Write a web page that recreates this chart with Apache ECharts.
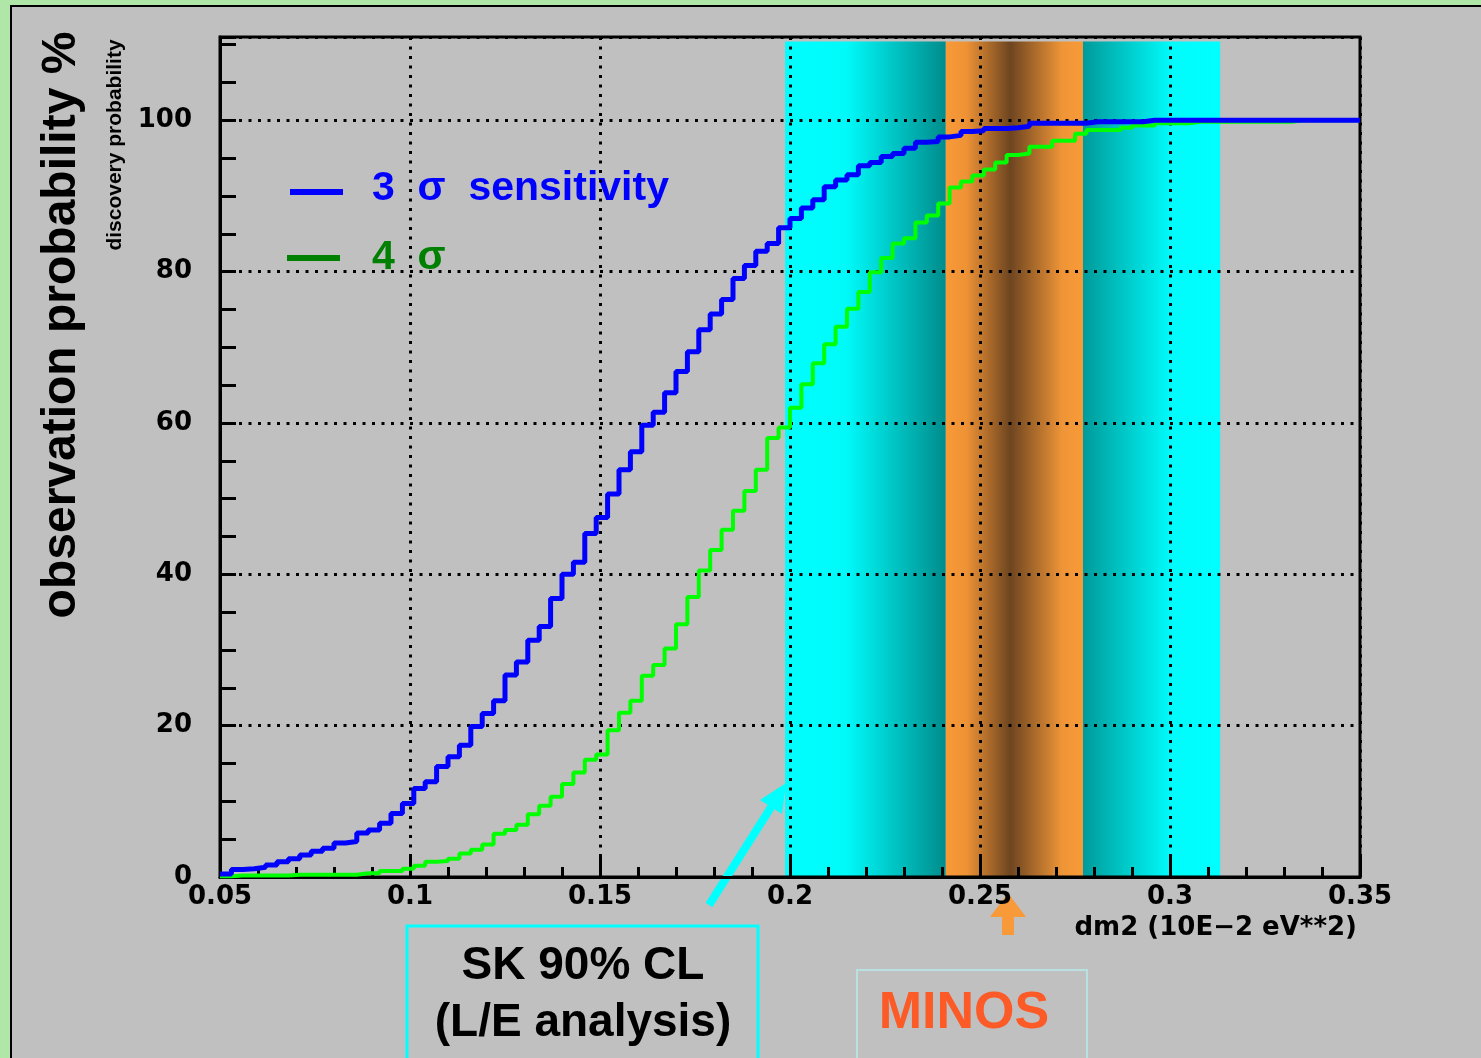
<!DOCTYPE html>
<html>
<head>
<meta charset="utf-8">
<title>observation probability</title>
<script src="https://cdn.jsdelivr.net/npm/echarts@6/dist/echarts.min.js"></script>
<style>
  html, body { margin: 0; padding: 0; background: #b0e6a8; }
  #chart { width: 1481px; height: 1058px; }
</style>
</head>
<body>
<div id="chart"></div>
<script>
// histogram bins: 100 bins of 0.003 from 0.05 to 0.35
const binStart = 0.05;
const binWidth = 0.003;
const xTicks = [0.05, 0.1, 0.15, 0.2, 0.25, 0.3, 0.35];
const yTicks = [0, 20, 40, 60, 80, 100];

// 3 sigma sensitivity (blue)
const sigma3 = [
  0.4, 1.0, 1.1, 1.3, 1.6, 2.0, 2.4, 2.9, 3.4, 3.8,
  4.5, 4.7, 5.8, 6.2, 7.1, 8.4, 9.7, 11.7, 12.6, 14.6,
  15.9, 17.4, 19.9, 21.6, 23.3, 26.7, 28.4, 31.3, 33.1, 36.8,
  40.0, 41.6, 45.4, 47.5, 50.6, 53.8, 56.2, 59.7, 61.4, 64.0,
  66.8, 69.4, 72.3, 74.4, 76.3, 79.1, 80.8, 82.7, 83.7, 85.8,
  87.0, 88.4, 89.5, 91.2, 92.1, 92.8, 94.0, 94.4, 95.2, 95.6,
  96.3, 97.1, 97.2, 97.8, 98.0, 98.5, 98.6, 98.9, 98.9, 99.0,
  99.2, 99.6, 99.6, 99.6, 99.6, 99.6, 99.8, 99.8, 99.8, 99.8,
  99.8, 100, 100, 100, 100, 100, 100, 100, 100, 100,
  100, 100, 100, 100, 100, 100, 100, 100, 100, 100
];

// 4 sigma (green)
const sigma4 = [
  0.1, 0.2, 0.2, 0.2, 0.2, 0.2, 0.3, 0.3, 0.3, 0.3,
  0.3, 0.3, 0.5, 0.5, 0.8, 0.8, 1.1, 1.5, 2.0, 2.1,
  2.4, 3.1, 3.6, 4.3, 5.7, 6.2, 6.9, 8.3, 9.4, 10.6,
  12.3, 13.8, 15.5, 16.2, 19.4, 21.7, 23.3, 26.6, 28.0, 30.2,
  33.4, 37.0, 40.5, 43.2, 45.9, 48.4, 51.0, 53.8, 58.0, 59.4,
  62.0, 65.1, 67.9, 70.4, 72.7, 75.1, 77.3, 79.9, 81.8, 83.7,
  84.4, 86.5, 87.4, 89.0, 91.1, 91.9, 92.7, 93.5, 94.4, 95.4,
  95.6, 96.5, 96.5, 97.3, 97.3, 98.2, 98.7, 98.7, 98.7, 99.0,
  99.3, 99.3, 99.6, 99.6, 99.6, 99.8, 99.8, 99.8, 99.8, 99.8,
  99.8, 99.8, 99.8, 99.8, 100, 100, 100, 100, 100, 100
];

// allowed dm2 ranges
const skRange = [0.1987, 0.3132];
const minosRange = [0.241, 0.2771];
const bandTop = 110.4;

function toSteps(values) {
  const pts = values.map((v, i) => [+(binStart + i * binWidth).toFixed(4), v]);
  pts.push([xTicks[xTicks.length - 1], values[values.length - 1]]);
  return pts;
}

const LG = echarts.graphic.LinearGradient;
const dotted = { color: '#000', width: 3, type: [3, 6.5] };
const tickFont = { color: '#000', fontFamily: 'DejaVu Sans', fontWeight: 'bold', fontSize: 26 };

let mychart = echarts.init(document.getElementById('chart'));
let option = {
  backgroundColor: '#b0e6a8',
  animation: false,
  grid: {
    left: 220, right: 121, top: 37, bottom: 181,
    show: true, borderColor: '#000', borderWidth: 3, backgroundColor: 'transparent'
  },
  xAxis: {
    type: 'value',
    min: xTicks[0], max: xTicks[xTicks.length - 1], interval: 0.05,
    axisLine: { show: true, lineStyle: { color: '#000', width: 3 } },
    axisTick: { inside: true, length: 20, lineStyle: { color: '#000', width: 3 } },
    minorTick: { show: true, splitNumber: 5, length: 10, lineStyle: { color: '#000', width: 3 } },
    axisLabel: Object.assign({ margin: 7, showMinLabel: true, showMaxLabel: true }, tickFont),
    splitLine: { show: true, lineStyle: dotted }
  },
  yAxis: [{
    type: 'value', position: 'left',
    min: 0, max: 111, interval: 20,
    axisLine: { show: true, lineStyle: { color: '#000', width: 3 } },
    axisTick: { show: false },
    axisLabel: Object.assign({
      margin: 28,
      formatter: v => (yTicks.indexOf(v) >= 0 ? String(v) : '')
    }, tickFont),
    splitLine: { show: true, lineStyle: dotted }
  }, {
    type: 'value', position: 'left',
    min: 0, max: 111, interval: 5,
    axisLine: { show: false },
    axisTick: { show: true, inside: true, length: 16, lineStyle: { color: '#000', width: 3 } },
    axisLabel: { show: false },
    splitLine: { show: false }
  }],
  graphic: [
    { type: 'rect', z: -100, shape: { x: 11, y: 6, width: 1490, height: 1070 },
      style: { fill: '#c0c0c0', stroke: '#000', lineWidth: 2 } },
    { type: 'text', x: 62, y: 325, rotation: Math.PI / 2,
      style: { text: 'observation probability %', fill: '#000', font: 'bold 48px "Liberation Sans"',
        align: 'center', verticalAlign: 'middle' } },
    { type: 'text', x: 115, y: 145, rotation: Math.PI / 2,
      style: { text: 'discovery probability', fill: '#000', font: 'bold 21px "Liberation Sans"',
        align: 'center', verticalAlign: 'middle' } },
    // legend
    { type: 'rect', shape: { x: 290, y: 189, width: 53, height: 6 }, style: { fill: '#0000ff' } },
    { type: 'text', x: 372, y: 189,
      style: { text: '3  σ  sensitivity', fill: '#0000ff', font: 'bold 41px "Liberation Sans"', verticalAlign: 'middle' } },
    { type: 'rect', shape: { x: 287, y: 255, width: 53, height: 6 }, style: { fill: '#008000' } },
    { type: 'text', x: 372, y: 258,
      style: { text: '4  σ', fill: '#008000', font: 'bold 41px "Liberation Sans"', verticalAlign: 'middle' } },
    // x axis title
    { type: 'text', x: 1357, y: 928,
      style: { text: 'dm2 (10E−2 eV**2)', fill: '#000', font: 'bold 26px "DejaVu Sans"',
        align: 'right', verticalAlign: 'middle' } },
    // SK arrow + box
    { type: 'line', shape: { x1: 709, y1: 905, x2: 773, y2: 804 },
      style: { stroke: '#00ffff', lineWidth: 8 } },
    { type: 'polygon', shape: { points: [[786, 783], [782, 814], [760, 800]] },
      style: { fill: '#00ffff' } },
    { type: 'rect', shape: { x: 407, y: 926, width: 351, height: 160 },
      style: { fill: 'none', stroke: '#00ffff', lineWidth: 3 } },
    { type: 'text', x: 583, y: 966,
      style: { text: 'SK 90% CL', fill: '#000', font: 'bold 46px "Liberation Sans"',
        align: 'center', verticalAlign: 'middle' } },
    { type: 'text', x: 583, y: 1023,
      style: { text: '(L/E analysis)', fill: '#000', font: 'bold 46px "Liberation Sans"',
        align: 'center', verticalAlign: 'middle' } },
    // MINOS arrow + box
    { type: 'polygon',
      shape: { points: [[1008, 893], [1026, 917], [1014, 917], [1014, 935], [1002, 935], [1002, 917], [990, 917]] },
      style: { fill: '#f89a3a' } },
    { type: 'rect', shape: { x: 857, y: 970, width: 230, height: 120 },
      style: { fill: 'none', stroke: '#b8e2e2', lineWidth: 2 } },
    { type: 'text', x: 964, y: 1014,
      style: { text: 'MINOS', fill: '#fc5a26', font: 'bold 52px "Liberation Sans"',
        align: 'center', verticalAlign: 'middle' } }
  ],
  series: [{
    name: 'bands',
    type: 'line',
    z: -1,
    silent: true,
    data: [[xTicks[0], 0]],
    symbol: 'none',
    lineStyle: { opacity: 0 },
    markArea: {
      silent: true,
      z: -1,
      data: [
        [{ xAxis: skRange[0], yAxis: 0,
           itemStyle: { color: new LG(0, 0, 1, 0, [
             { offset: 0, color: '#00ffff' }, { offset: 0.38, color: '#00fafa' }, { offset: 1, color: '#008c8c' }]) } },
         { xAxis: minosRange[0], yAxis: bandTop }],
        [{ xAxis: minosRange[0], yAxis: 0,
           itemStyle: { color: new LG(0, 0, 1, 0, [
             { offset: 0, color: '#f99a38' }, { offset: 0.15, color: '#ee9235' },
             { offset: 0.47, color: '#6d4520' }, { offset: 0.85, color: '#ef9537' }, { offset: 1, color: '#f99a38' }]) } },
         { xAxis: minosRange[1], yAxis: bandTop }],
        [{ xAxis: minosRange[1], yAxis: 0,
           itemStyle: { color: new LG(0, 0, 1, 0, [
             { offset: 0, color: '#009a9a' }, { offset: 0.65, color: '#00fcfc' }, { offset: 1, color: '#00ffff' }]) } },
         { xAxis: skRange[1], yAxis: bandTop }]
      ]
    }
  }, {
    name: '4 σ',
    type: 'line',
    step: 'end',
    symbol: 'none',
    z: 3,
    lineStyle: { color: '#00ff00', width: 4 },
    data: toSteps(sigma4)
  }, {
    name: '3 σ sensitivity',
    type: 'line',
    step: 'end',
    symbol: 'none',
    z: 4,
    lineStyle: { color: '#0000ff', width: 5 },
    data: toSteps(sigma3)
  }]
};
mychart.setOption(option);
</script>
</body>
</html>
